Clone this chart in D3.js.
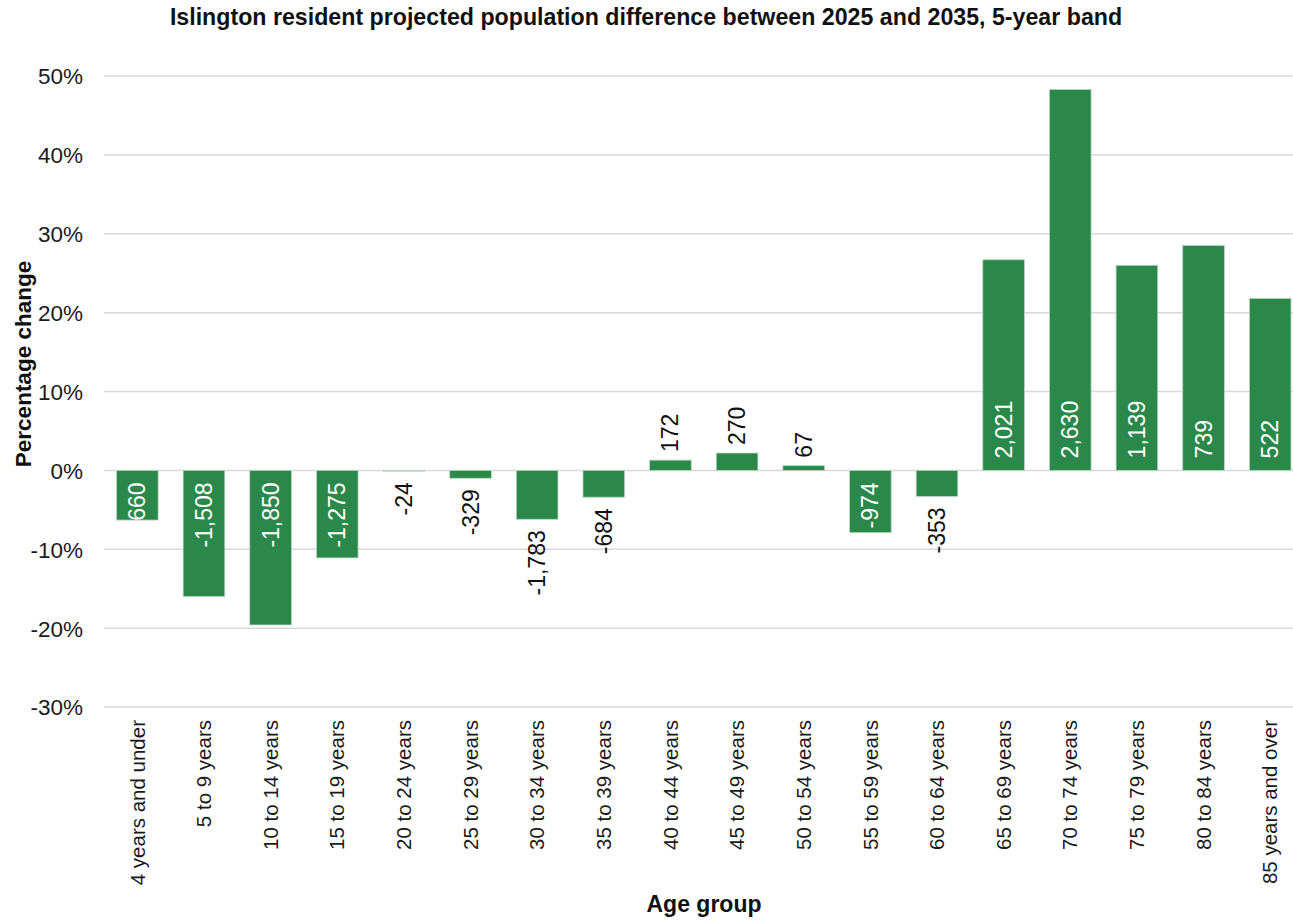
<!DOCTYPE html>
<html>
<head>
<meta charset="utf-8">
<script src="https://cdn.jsdelivr.net/npm/d3@7"></script>
<style>
  html, body { margin: 0; padding: 0; background: #fff; }
  svg { display: block; font-family: "Liberation Sans", Arial, sans-serif; }
</style>
</head>
<body>
<svg id="chart" width="1293" height="922"></svg>
<script>
// ---- Data ----
const categories = ["4 years and under", "5 to 9 years", "10 to 14 years", "15 to 19 years",
  "20 to 24 years", "25 to 29 years", "30 to 34 years", "35 to 39 years", "40 to 44 years",
  "45 to 49 years", "50 to 54 years", "55 to 59 years", "60 to 64 years", "65 to 69 years",
  "70 to 74 years", "75 to 79 years", "80 to 84 years", "85 years and over"];
const pctChange = [-6.3, -16.0, -19.6, -11.1, -0.1, -1.0, -6.2, -3.4, 1.3, 2.2, 0.6, -7.9, -3.3,
  26.7, 48.3, 26.0, 28.5, 21.8];
const popDiff = [-660, -1508, -1850, -1275, -24, -329, -1783, -684, 172, 270, 67, -974, -353,
  2021, 2630, 1139, 739, 522];
const yTicks = [-30, -20, -10, 0, 10, 20, 30, 40, 50];
const titleText = "Islington resident projected population difference between 2025 and 2035, 5-year band";
const xTitle = "Age group";
const yTitle = "Percentage change";

// ---- Drawing ----
const svg = d3.select("#chart");
const green = "#2a884a";
const margin = { left: 104, right: 1303.5, top: 76, bottom: 707 };

const x = d3.scaleBand().domain(categories).range([margin.left, margin.right]).paddingInner(0.375).paddingOuter(0.1875);
const y = d3.scaleLinear().domain([-30, 50]).range([margin.bottom, margin.top]);

// gridlines
svg.append("g").selectAll("line").data(yTicks).join("line")
  .attr("x1", margin.left).attr("x2", margin.right)
  .attr("y1", d => y(d)).attr("y2", d => y(d))
  .attr("stroke", "#d9d9d9").attr("stroke-width", 1.5);

// y axis labels via d3 axis
const yAxis = d3.axisLeft(y).tickValues(yTicks).tickFormat(d => d + "%").tickSize(0).tickPadding(0);
const yg = svg.append("g").attr("transform", `translate(83,0)`).call(yAxis);
yg.select(".domain").remove();
yg.selectAll("text").attr("font-size", 22.5).attr("fill", "#1a1a1a")
  .attr("font-family", "Liberation Sans, Arial, sans-serif").attr("dy", "0.35em");

// bars
const idx = d3.range(categories.length);
svg.append("g").selectAll("rect").data(idx).join("rect")
  .attr("x", i => x(categories[i]))
  .attr("width", x.bandwidth())
  .attr("y", i => Math.min(y(pctChange[i]), y(0)))
  .attr("height", i => Math.abs(y(pctChange[i]) - y(0)))
  .attr("fill", green)
  .attr("stroke", "#b9d8c0").attr("stroke-width", 0.8);

// x axis category labels
const xAxis = d3.axisBottom(x).tickSize(0).tickPadding(0);
const xg = svg.append("g").attr("transform", `translate(0,${margin.bottom})`).call(xAxis);
xg.select(".domain").remove();
xg.selectAll("text")
  .attr("font-size", 20.5).attr("fill", "#1a1a1a")
  .attr("font-family", "Liberation Sans, Arial, sans-serif")
  .attr("text-anchor", "end")
  .attr("transform", "rotate(-90)")
  .attr("x", -13).attr("y", 0).attr("dy", "0.35em");

// data labels
const insideLabels = new Set([0, 1, 2, 3, 11, 13, 14, 15, 16, 17]);
const fmt = d3.format(",");
svg.append("g").selectAll("text").data(idx).join("text")
  .attr("transform", i => {
    const cx = x(categories[i]) + x.bandwidth() / 2;
    const v = pctChange[i];
    let yy;
    if (insideLabels.has(i)) yy = v >= 0 ? y(0) - 12 : y(0) + 12;
    else yy = v >= 0 ? y(v) - 8 : y(v) + 11;
    return `translate(${cx},${yy}) rotate(-90)`;
  })
  .attr("text-anchor", i => pctChange[i] >= 0 ? "start" : "end")
  .attr("dy", "0.35em")
  .attr("font-size", 23)
  .attr("fill", i => insideLabels.has(i) ? "#ffffff" : "#111111")
  .text(i => fmt(popDiff[i]).replace("\u2212", "-"));

// title
svg.append("text").attr("x", 646).attr("y", 25).attr("text-anchor", "middle")
  .attr("font-size", 23.2).attr("font-weight", "bold").attr("fill", "#111")
  .text(titleText);

// axis titles
svg.append("text").attr("x", 704).attr("y", 912).attr("text-anchor", "middle")
  .attr("font-size", 23).attr("font-weight", "bold").attr("fill", "#111")
  .text(xTitle);
svg.append("text").attr("transform", "translate(31,364) rotate(-90)").attr("text-anchor", "middle")
  .attr("font-size", 22.5).attr("font-weight", "bold").attr("fill", "#111")
  .text(yTitle);
</script>
</body>
</html>
